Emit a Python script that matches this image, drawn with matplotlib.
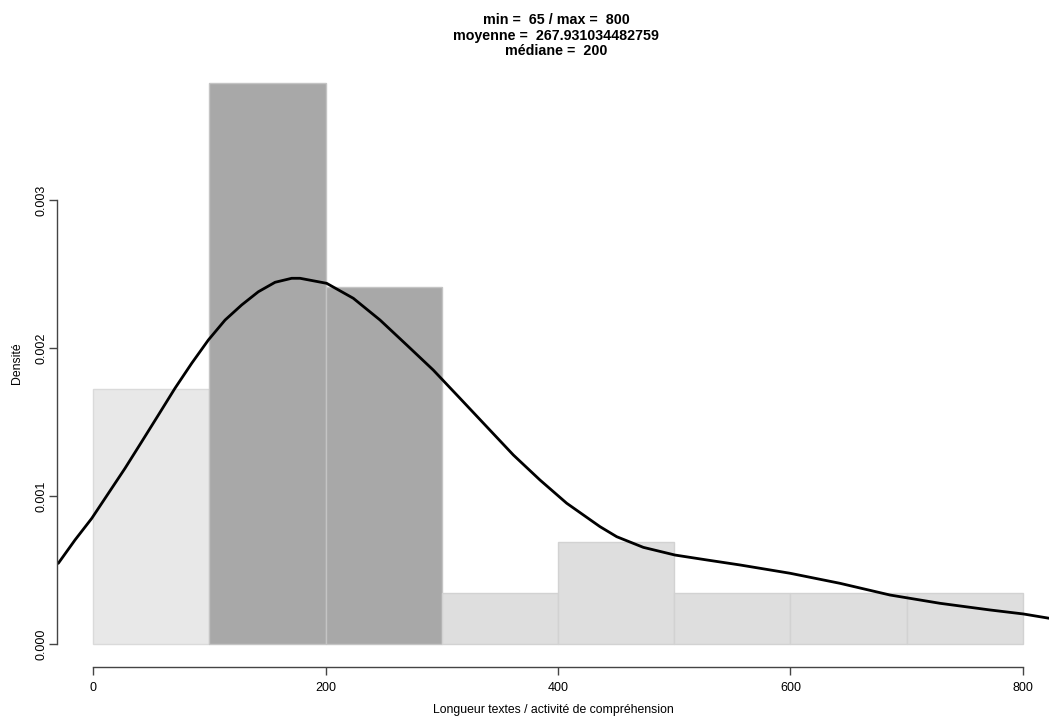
import matplotlib.pyplot as plt

plt.rcParams['font.family'] = ['Liberation Sans', 'DejaVu Sans']

# histogram (density scale, bins of width 100, n = 29)
bin_left = [0, 100, 200, 300, 400, 500, 600, 700]
bin_width = 100
densities = [0.001724, 0.003793, 0.002414, 0.000345, 0.000690, 0.000345, 0.000345, 0.000345]
bar_colors = ['#e8e8e8', '#a8a8a8', '#a8a8a8', '#dedede', '#dedede', '#dedede', '#dedede', '#dedede']
edge_colors = ['#dadada', '#c4c4c4', '#c4c4c4', '#d2d2d2', '#d2d2d2', '#d2d2d2', '#d2d2d2', '#d2d2d2']

# density curve
curve_x = [-29.9, -15.5, -1.1, 13.2, 27.5, 41.9, 56.2, 70.5, 84.9, 99.2, 113.6,
           127.9, 142.2, 156.6, 170.9, 178.1, 201.0, 223.9, 246.9, 269.9, 292.7,
           315.7, 338.7, 361.6, 384.5, 407.5, 436.1, 450.5, 473.4, 500.7, 527.9,
           556.6, 599.6, 642.6, 685.6, 728.6, 771.6, 800.3, 822.4]
curve_y = [0.545, 0.703, 0.849, 1.018, 1.187, 1.367, 1.547, 1.728, 1.897, 2.054,
           2.189, 2.291, 2.380, 2.444, 2.471, 2.471, 2.437, 2.336, 2.189, 2.020,
           1.851, 1.660, 1.468, 1.277, 1.108, 0.951, 0.793, 0.725, 0.653, 0.601,
           0.568, 0.534, 0.478, 0.410, 0.331, 0.275, 0.230, 0.203, 0.174]
curve_y = [v / 1000 for v in curve_y]

x_ticks = [0, 200, 400, 600, 800]
y_ticks = [0.0, 0.001, 0.002, 0.003]
y_tick_labels = ['0.000', '0.001', '0.002', '0.003']

title = "min =  65 / max =  800\nmoyenne =  267.931034482759\nmédiane =  200"

W, H = 1049, 718
fig = plt.figure(figsize=(W / 100, H / 100), dpi=100)
ax = fig.add_axes([57 / W, (H - 667) / H, (1049 - 57) / W, (667 - 59) / H])

ax.bar(bin_left, densities, width=bin_width, align='edge',
       color=bar_colors, edgecolor=edge_colors, linewidth=1)
ax.plot(curve_x, curve_y, color='black', linewidth=2, solid_capstyle='round',
        solid_joinstyle='round')

ax.set_xlim(-31, 822.4)
ax.set_ylim(-0.0001554, 0.0039527)

for s in ['top', 'right']:
    ax.spines[s].set_visible(False)
ax.spines['left'].set_bounds(0, 0.003)
ax.spines['bottom'].set_bounds(0, 800)
for s in ['left', 'bottom']:
    ax.spines[s].set_color('#444444')
    ax.spines[s].set_linewidth(1)

ax.set_xticks(x_ticks)
ax.set_xticklabels([str(v) for v in x_ticks])
ax.set_yticks(y_ticks)
ax.set_yticklabels(y_tick_labels, rotation=90, va='center')
ax.tick_params(axis='both', length=6, width=1, color='#444444', labelsize=9)
ax.tick_params(axis='x', pad=5)
ax.tick_params(axis='y', pad=1)

ax.set_xlabel('Longueur textes / activité de compréhension', fontsize=8.8, labelpad=7)
ax.set_ylabel('Densité', fontsize=8.8, labelpad=9)

fig.text(0.53, 1 - 13 / H, title, ha='center', va='top', fontsize=10.3,
         fontweight='bold', linespacing=1.15)

fig.savefig('out.png', dpi=100)
